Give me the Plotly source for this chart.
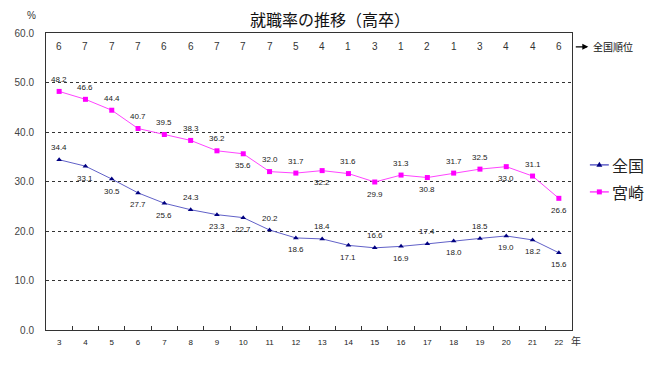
import plotly.graph_objects as go

years = ["3", "4", "5", "6", "7", "8", "9", "10", "11", "12", "13", "14", "15", "16", "17", "18", "19", "20", "21", "22"]
national = [34.4, 33.1, 30.5, 27.7, 25.6, 24.3, 23.3, 22.7, 20.2, 18.6, 18.4, 17.1, 16.6, 16.9, 17.4, 18.0, 18.5, 19.0, 18.2, 15.6]
miyazaki = [48.2, 46.6, 44.4, 40.7, 39.5, 38.3, 36.2, 35.6, 32.0, 31.7, 32.2, 31.6, 29.9, 31.3, 30.8, 31.7, 32.5, 33.0, 31.1, 26.6]
ranks = [6, 7, 7, 7, 6, 6, 7, 7, 7, 5, 4, 1, 3, 1, 2, 1, 3, 4, 4, 6]
series_names = ["全国", "宮崎"]
# label placement: 1 = above the point, -1 = below
national_pos = [1, -1, -1, -1, -1, 1, -1, -1, 1, -1, 1, -1, 1, -1, 1, -1, 1, -1, -1, -1]
miyazaki_pos = [1, 1, 1, 1, 1, 1, 1, -1, 1, 1, -1, 1, -1, 1, -1, 1, 1, -1, 1, -1]

JP = "Noto Sans CJK JP, Noto Sans, sans-serif"
NAT_LINE, NAT_MARK = "#6161c8", "#000080"
MIY_LINE, MIY_MARK = "#ff44ff", "#ff00ff"

fig = go.Figure()
fig.add_trace(go.Scatter(
    x=years, y=national, name=series_names[0], mode="lines+markers",
    line=dict(color=NAT_LINE, width=1),
    marker=dict(symbol="triangle-up", size=5, color=NAT_MARK),
))
fig.add_trace(go.Scatter(
    x=years, y=miyazaki, name=series_names[1], mode="lines+markers",
    line=dict(color=MIY_LINE, width=1),
    marker=dict(symbol="square", size=5, color=MIY_MARK),
))

annotations = []
for ys, ps in ((national, national_pos), (miyazaki, miyazaki_pos)):
    for i, (y, p) in enumerate(zip(ys, ps)):
        annotations.append(dict(
            x=i, y=y, text=f"{y:.1f}", showarrow=False,
            yshift=12 * p, font=dict(size=8, color="#222222", family="Arial"),
        ))
for i, r in enumerate(ranks):
    annotations.append(dict(
        x=i, y=57.2, text=str(r), showarrow=False,
        font=dict(size=10, color="#333333", family="Arial"),
    ))
# arrow and label for national ranking
annotations.append(dict(
    xref="paper", yref="y", x=1.031, y=57.2, ax=-14, ay=0, text="",
    showarrow=True, arrowhead=2, arrowsize=1, arrowwidth=1.2, arrowcolor="#000000",
))
annotations.append(dict(
    xref="paper", yref="y", x=1.036, y=57.2, xanchor="left", text="全国順位",
    showarrow=False, font=dict(size=10, color="#111111", family=JP),
))
annotations.append(dict(
    xref="paper", yref="paper", x=-0.04, y=1.0, yanchor="middle", yshift=18, text="%",
    showarrow=False, font=dict(size=10, color="#333333", family="Arial"),
))
annotations.append(dict(
    xref="paper", yref="paper", x=1.021, y=0.0, yanchor="middle", yshift=-10,
    text="年", showarrow=False, font=dict(size=10, color="#333333", family=JP),
))

# manual legend
shapes = []
leg_y = [0.556, 0.465]
for name, ly, lc, mc, sym in ((series_names[0], leg_y[0], NAT_LINE, NAT_MARK, "tri"),
                              (series_names[1], leg_y[1], MIY_LINE, MIY_MARK, "sq")):
    shapes.append(dict(type="line", xref="paper", yref="paper", x0=1.034, x1=1.070, y0=ly, y1=ly,
                       line=dict(color=lc, width=1.5)))
    if sym == "tri":
        path = "M -3 -2 L 3 -2 L 0 3 Z"
    else:
        path = "M -2.5 -2.5 L 2.5 -2.5 L 2.5 2.5 L -2.5 2.5 Z"
    shapes.append(dict(type="path", xref="paper", yref="paper", xsizemode="pixel", ysizemode="pixel",
                       xanchor=1.052, yanchor=ly, path=path, fillcolor=mc, line=dict(color=mc, width=0)))
    annotations.append(dict(
        xref="paper", yref="paper", x=1.073, y=ly, xanchor="left", text=name,
        showarrow=False, font=dict(size=16, color="#222222", family=JP),
    ))

fig.update_layout(
    width=652, height=367,
    margin=dict(l=38, r=88, t=25, b=45, autoexpand=False),
    paper_bgcolor="white", plot_bgcolor="white",
    title=dict(text="就職率の推移（高卒）", x=0.494, xanchor="center", y=0.967, yanchor="middle",
               font=dict(size=16, color="#111111", family=JP)),
    showlegend=False,
    annotations=annotations,
    shapes=shapes,
    xaxis=dict(
        type="category", showline=True, linecolor="#333333", linewidth=1, mirror=True,
        ticks="inside", tickson="boundaries", ticklen=4, tickcolor="#333333",
        showgrid=False, tickfont=dict(size=8, color="#222222", family="Arial"),
        range=[-0.5, 19.5], automargin=False, ticklabelstandoff=4,
    ),
    yaxis=dict(
        range=[0, 60], dtick=10, tickformat=".1f", showline=True, linecolor="#333333",
        linewidth=1, mirror=True, showgrid=True, gridcolor="#333333", griddash="dot",
        gridwidth=1, zeroline=False, ticks="", automargin=False, ticklabelstandoff=9,
        tickfont=dict(size=10, color="#444444", family="Arial"),
    ),
)

fig.write_html("out.html")
